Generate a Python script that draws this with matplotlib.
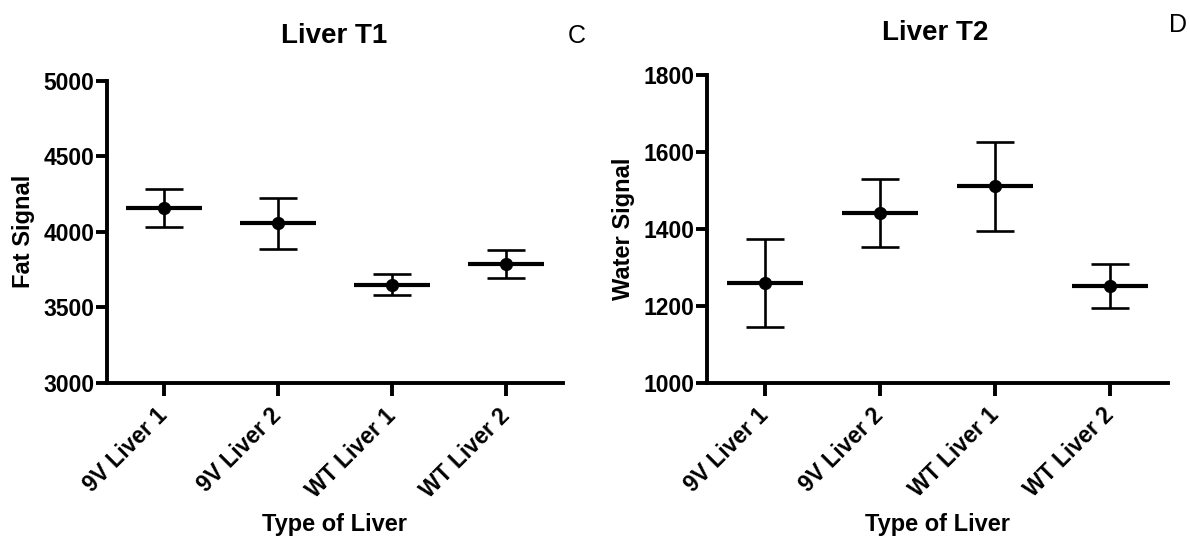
import matplotlib
matplotlib.use("Agg")
import matplotlib.pyplot as plt
import numpy as np

plt.rcParams["font.family"] = ["Liberation Sans", "DejaVu Sans"]

CATEGORIES = ["9V Liver 1", "9V Liver 2", "WT Liver 1", "WT Liver 2"]

T1_MEAN = [4156, 4056, 3651, 3785]
T1_ERR = [127, 169, 70, 92]

T2_MEAN = [1259, 1441, 1511, 1251]
T2_ERR = [115, 89, 116, 57]

SPINE_LW = 2.8


def draw_panel(ax, means, errs, ylim, yticks, ylabel):
    x = np.arange(len(CATEGORIES))
    ax.errorbar(x, means, yerr=errs, fmt="o", color="black", markersize=8.5,
                elinewidth=1.9, capsize=14, capthick=1.9, zorder=3)
    ax.hlines(means, x - 0.33, x + 0.33, color="black", linewidth=3, zorder=3)

    ax.set_xlim(-0.5, 3.5)
    ax.set_ylim(*ylim)
    ax.set_yticks(yticks)
    ax.set_xticks(x)
    ax.set_xticklabels(CATEGORIES, rotation=45, ha="right", va="center",
                       rotation_mode="anchor", fontsize=16.5, fontweight="bold")
    for lab in ax.get_yticklabels():
        lab.set_fontweight("bold")
        lab.set_fontsize(16.5)

    for side in ("top", "right"):
        ax.spines[side].set_visible(False)
    for side in ("left", "bottom"):
        ax.spines[side].set_linewidth(SPINE_LW)
    ax.tick_params(axis="y", length=8, width=SPINE_LW, pad=1)
    ax.tick_params(axis="x", length=9, width=SPINE_LW, pad=12)

    ax.set_ylabel(ylabel, fontsize=17, fontweight="bold", labelpad=6)
    ax.set_xlabel("Type of Liver", fontsize=17, fontweight="bold", labelpad=8)


fig = plt.figure(figsize=(11.9, 5.36), dpi=100)
ax1 = fig.add_axes([0.0899, 0.2854, 0.3832, 0.564])
ax2 = fig.add_axes([0.5941, 0.286, 0.3874, 0.574])

draw_panel(ax1, T1_MEAN, T1_ERR, (3000, 5000), [3000, 3500, 4000, 4500, 5000], "Fat Signal")
draw_panel(ax2, T2_MEAN, T2_ERR, (1000, 1800), [1000, 1200, 1400, 1600, 1800], "Water Signal")

fig.text(0.281, 0.933, "Liver T1", ha="center", va="center", fontsize=20, fontweight="bold")
fig.text(0.786, 0.938, "Liver T2", ha="center", va="center", fontsize=20, fontweight="bold")
fig.text(0.485, 0.933, "C", ha="center", va="center", fontsize=18)
fig.text(0.990, 0.953, "D", ha="center", va="center", fontsize=18)

fig.savefig("out.png", dpi=100)
